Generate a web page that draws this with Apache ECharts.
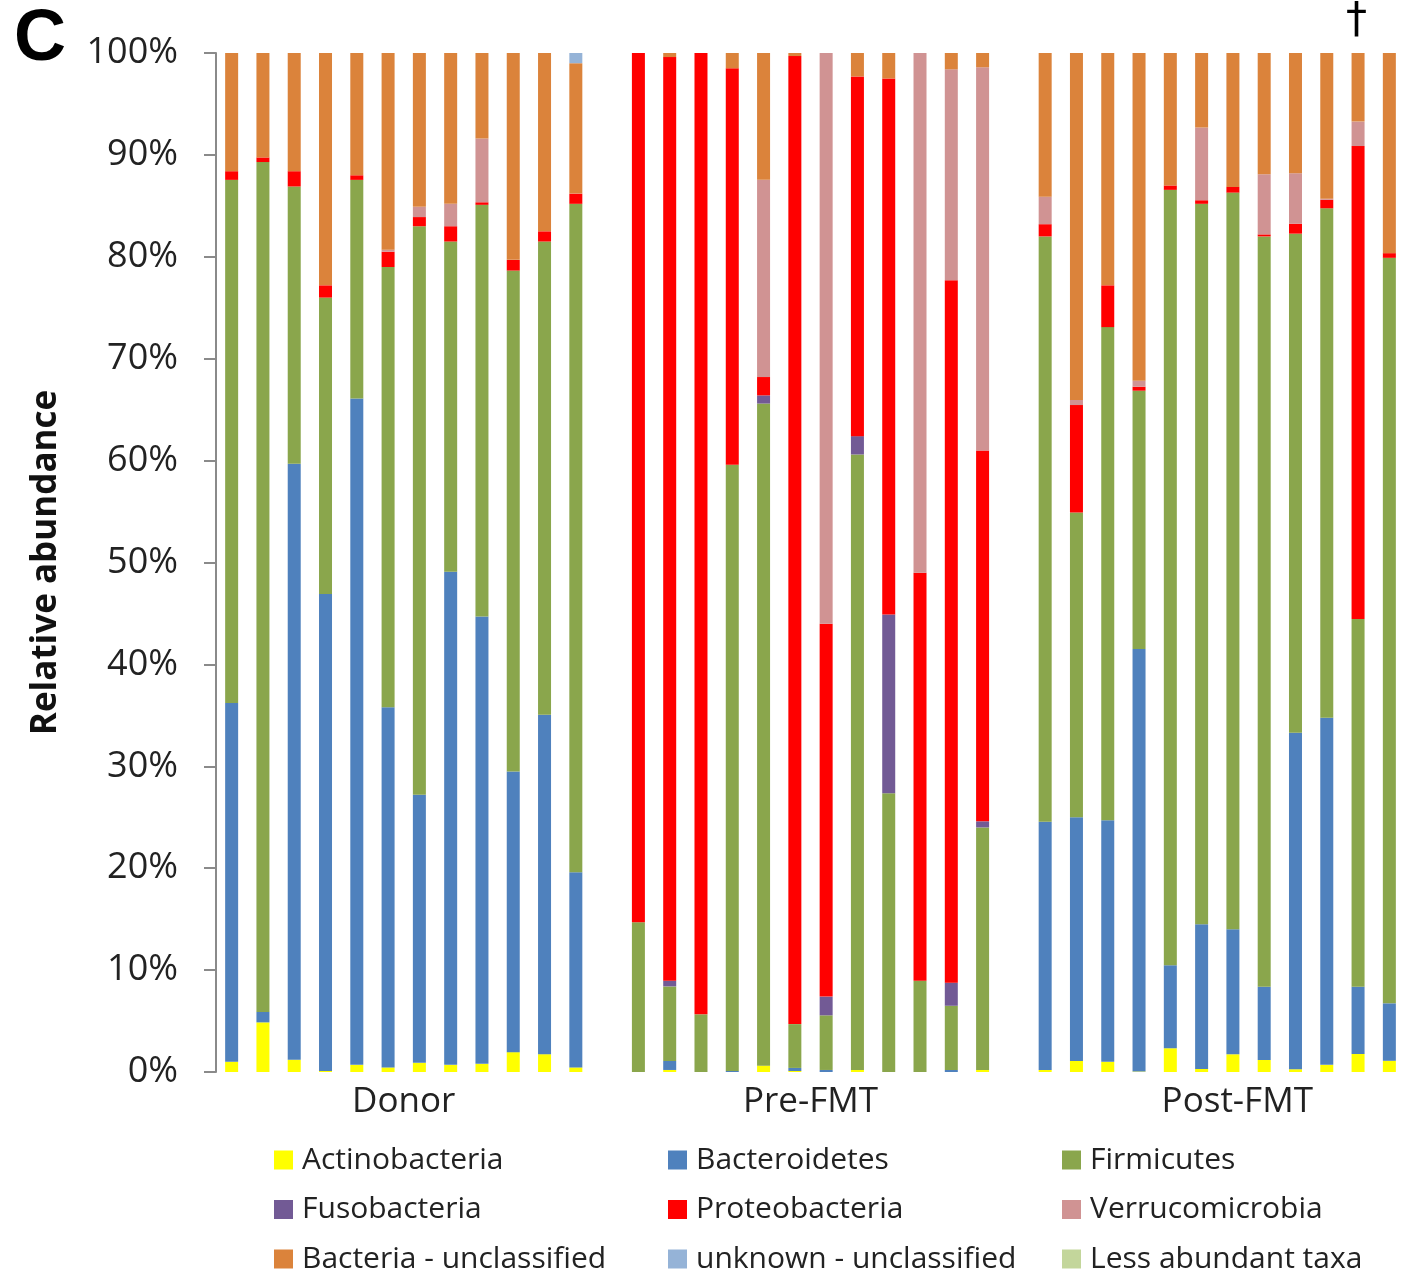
<!DOCTYPE html>
<html>
<head>
<meta charset="utf-8">
<script src="https://cdn.jsdelivr.net/npm/echarts@6/dist/echarts.min.js"></script>
<style>html,body{margin:0;padding:0;background:#fff}#c{width:1411px;height:1271px}</style>
</head>
<body>
<div id="c"></div>
<script>
// ---- data (percent, bottom-up within each bar) ----
const groups = ['Donor', 'Pre-FMT', 'Post-FMT'];
const samplesPerGroup = 12;
const yTicks = [0,10,20,30,40,50,60,70,80,90,100];

const actinobacteria = [1.0,4.87,1.2,0.1,0.7,0.45,0.9,0.7,0.8,1.95,1.75,0.45,
  0,0.2,0,0,0.62,0.1,0,0.2,0,0,0,0.2,
  0.2,1.08,1.0,0.05,2.33,0.3,1.74,1.18,0.27,0.7,1.77,1.1];
const bacteroidetes = [35.2,1.03,58.5,46.8,65.4,35.35,26.3,48.4,43.9,27.55,33.3,19.15,
  0,0.88,0,0.1,0,0.3,0.2,0,0,0,0.2,0,
  24.36,23.92,23.7,41.45,8.14,14.2,12.26,7.19,33.03,34.07,6.6,5.64];
const firmicutes = [51.35,83.4,27.2,29.1,21.45,43.2,55.8,32.4,40.4,49.15,46.45,65.6,
  14.7,7.32,5.66,59.5,64.98,4.3,5.36,60.4,27.35,8.96,6.3,23.8,
  57.44,29.9,48.4,25.36,76.1,70.7,72.3,73.63,48.97,49.99,36.08,73.16];
const fusobacteria = [0,0,0,0,0,0,0,0,0,0,0,0,
  0,0.56,0,0,0.8,0,1.84,1.8,17.55,0,2.27,0.6,
  0,0,0,0,0,0,0,0,0,0,0,0];
const proteobacteria = [0.85,0.45,1.5,1.2,0.45,1.5,0.9,1.5,0.25,1.05,1.0,1.0,
  85.3,90.64,94.34,38.9,1.8,95.0,36.6,35.3,52.6,40.04,68.93,36.4,
  1.2,10.55,4.1,0.39,0.43,0.35,0.56,0.2,0.98,0.84,46.42,0.46];
const verrucomicrobia = [0,0,0,0,0,0.2,1.0,2.2,6.25,0,0,0,
  0,0,0,0,19.35,0,56.0,0,0,51.0,20.7,37.6,
  2.7,0.5,0,0.59,0,7.15,0,5.9,4.95,0.1,2.4,0];
const bacteriaUnclassified = [11.6,10.25,11.6,22.8,12.0,19.3,15.1,14.8,8.4,20.3,17.5,12.8,
  0,0.4,0,1.5,12.45,0.3,0,2.3,2.5,0,1.6,1.4,
  14.1,34.05,22.8,32.16,13.0,7.3,13.14,11.9,12.8,14.3,6.73,19.64];
const unknownUnclassified = [0,0,0,0,0,0,0,0,0,0,0,1.0,
  0,0,0,0,0,0,0,0,0,0,0,0,
  0,0,0,0,0,0,0,0,0,0,0,0];
const lessAbundant = [0,0,0,0,0,0,0,0,0,0,0,0,
  0,0,0,0,0,0,0,0,0,0,0,0,
  0,0,0,0,0,0,0,0,0,0,0,0];

const taxa = [
  ['Actinobacteria', actinobacteria, '#FFFF00'],
  ['Bacteroidetes', bacteroidetes, '#4F81BD'],
  ['Firmicutes', firmicutes, '#8AA64C'],
  ['Fusobacteria', fusobacteria, '#725A95'],
  ['Proteobacteria', proteobacteria, '#FF0000'],
  ['Verrucomicrobia', verrucomicrobia, '#D09393'],
  ['Bacteria - unclassified', bacteriaUnclassified, '#DB833B'],
  ['unknown - unclassified', unknownUnclassified, '#95B3D7'],
  ['Less abundant taxa', lessAbundant, '#C3D69B']
];

// ---- build category axis with one blank slot between groups ----
const categories = [];
const slotIndex = [];
groups.forEach((g, gi) => {
  if (gi > 0) categories.push('gap' + gi);
  for (let i = 0; i < samplesPerGroup; i++) {
    slotIndex.push(categories.length);
    categories.push(g + ' ' + (i + 1));
  }
});
function withGaps(arr) {
  const out = categories.map(() => '-');
  arr.forEach((v, i) => { out[slotIndex[i]] = v; });
  return out;
}
const groupCenters = groups.map((g, gi) => gi * (samplesPerGroup + 1) + samplesPerGroup / 2);

const FONT = '"Open Sans", sans-serif';
const chart = echarts.init(document.getElementById('c'), null, {renderer: 'canvas'});

const legendCols = [
  ['Actinobacteria', 'Fusobacteria', 'Bacteria - unclassified'],
  ['Bacteroidetes', 'Proteobacteria', 'unknown - unclassified'],
  ['Firmicutes', 'Verrucomicrobia', 'Less abundant taxa']
];
const legendLeft = [274, 668, 1062];

chart.setOption({
  animation: false,
  backgroundColor: '#ffffff',
  grid: {left: 216, top: 53, width: 1189, height: 1019, containLabel: false},
  legend: legendCols.map((col, i) => ({
    data: col,
    orient: 'vertical',
    left: legendLeft[i],
    top: 1145,
    height: 140,
    padding: 0,
    itemWidth: 19,
    itemHeight: 19,
    itemGap: 19.5,
    icon: 'rect',
    selectedMode: false,
    textStyle: {fontFamily: FONT, fontSize: 30, color: '#222', lineHeight: 28, padding: [0, 0, 0, 4]}
  })),
  xAxis: [{
    type: 'category',
    data: categories,
    axisLine: {show: false},
    axisTick: {show: false},
    axisLabel: {show: false},
    splitLine: {show: false}
  }, {
    type: 'value',
    min: 0,
    max: categories.length,
    position: 'bottom',
    axisLine: {show: false},
    axisTick: {show: false},
    splitLine: {show: false},
    axisLabel: {
      customValues: groupCenters,
      margin: 13,
      fontFamily: FONT,
      fontSize: 35,
      color: '#222',
      formatter: function (v) {
        const gi = groupCenters.indexOf(v);
        if (gi === 2) return '{post|' + groups[gi] + '}';
        return gi >= 0 ? groups[gi] : '';
      },
      rich: {post: {fontFamily: FONT, fontSize: 35, color: '#222', padding: [0, 0, 0, 40]}}
    }
  }],
  yAxis: {
    type: 'value',
    min: 0,
    max: 100,
    interval: 10,
    name: 'Relative abundance',
    nameLocation: 'middle',
    nameRotate: 90,
    nameGap: 152,
    nameTextStyle: {fontFamily: FONT, fontSize: 35, fontWeight: 'bold', color: '#111'},
    axisLine: {show: true, lineStyle: {color: '#8a8a8a', width: 2}},
    axisTick: {show: true, length: 12, lineStyle: {color: '#8a8a8a', width: 2}},
    splitLine: {show: false},
    axisLabel: {
      margin: 38,
      fontFamily: FONT,
      fontSize: 36,
      color: '#222',
      formatter: function (v) { return yTicks.indexOf(v) >= 0 ? v + '%' : ''; }
    }
  },
  series: taxa.map(([name, arr, color]) => ({
    name: name,
    type: 'bar',
    stack: 'total',
    barWidth: 13,
    itemStyle: {color: color},
    emphasis: {disabled: true},
    data: withGaps(arr)
  })),
  graphic: [
    {type: 'text', left: 14, top: 4, style: {text: 'C', font: 'bold 72px "Liberation Sans", Arial, sans-serif', fill: '#000'}},
    {type: 'text', left: 1346, top: 0, style: {text: '†', font: '42px "DejaVu Sans", sans-serif', fill: '#000'}}
  ]
});
</script>
</body>
</html>
